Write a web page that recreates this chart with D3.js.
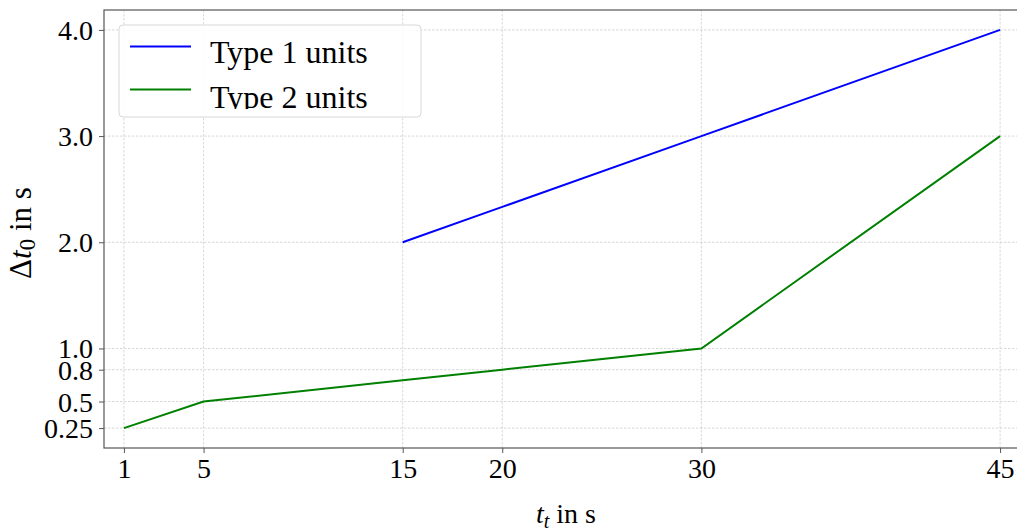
<!DOCTYPE html>
<html>
<head>
<meta charset="utf-8">
<script src="https://cdn.jsdelivr.net/npm/d3@7"></script>
<style>
  body { margin: 0; background: #fff; }
  text { font-family: "Liberation Serif", "DejaVu Serif", serif; fill: #000; }
</style>
</head>
<body>
<div id="chart"></div>
<script>
var svgWidth = 1017;
var svgHeight = 532;

// data
var xTicks = [1, 5, 15, 20, 30, 45];
var yTicks = [0.25, 0.5, 0.8, 1.0, 2.0, 3.0, 4.0];
var yTickLabels = ["0.25", "0.5", "0.8", "1.0", "2.0", "3.0", "4.0"];
var type1X = [15, 20, 30, 45];
var type1Y = [2.0, 2.333, 3.0, 4.0];
var type2X = [1, 5, 15, 20, 30, 45];
var type2Y = [0.25, 0.5, 0.7, 0.8, 1.0, 3.0];
var seriesNames = ["Type 1 units", "Type 2 units"];
var seriesColors = ["#0000ff", "#008000"];

var plotL = 104, plotR = 1020, plotT = 10, plotB = 448;

var svg = d3.select("#chart")
  .append("svg")
  .attr("width", svgWidth)
  .attr("height", svgHeight);

var x = d3.scaleLinear().domain([0, 46]).range([plotL, plotR]);
var y = d3.scaleLinear().domain([0.0625, 4.1875]).range([plotB, plotT]);

// grid
var grid = svg.append("g");
grid.selectAll(".vg").data(xTicks).enter().append("line")
  .attr("x1", d => x(d)).attr("x2", d => x(d))
  .attr("y1", plotT).attr("y2", plotB)
  .attr("stroke", "#b0b0b0").attr("stroke-width", 0.8)
  .attr("stroke-dasharray", "2.5,1.5").attr("opacity", 0.6);
grid.selectAll(".hg").data(yTicks).enter().append("line")
  .attr("x1", plotL).attr("x2", plotR)
  .attr("y1", d => y(d)).attr("y2", d => y(d))
  .attr("stroke", "#b0b0b0").attr("stroke-width", 0.8)
  .attr("stroke-dasharray", "2.5,1.5").attr("opacity", 0.6);

// axes
var xAxis = d3.axisBottom(x).tickValues(xTicks).tickSize(5).tickPadding(5);
var yAxis = d3.axisLeft(y).tickValues(yTicks)
  .tickFormat((d, i) => yTickLabels[i]).tickSize(5).tickPadding(6);

var gx = svg.append("g").attr("transform", `translate(0,${plotB})`).call(xAxis);
var gy = svg.append("g").attr("transform", `translate(${plotL},0)`).call(yAxis);
[gx, gy].forEach(function(g) {
  g.attr("font-size", null).attr("font-family", null);
  g.select(".domain").remove();
  g.selectAll(".tick line").attr("stroke", "#555").attr("stroke-width", 1);
  g.selectAll(".tick text").style("font-size", "28px")
    .style("font-family", "'Liberation Serif', serif").attr("fill", "#000");
});
gy.selectAll(".tick text").attr("dy", "0.34em");

// frame
svg.append("rect")
  .attr("x", plotL).attr("y", plotT)
  .attr("width", plotR - plotL).attr("height", plotB - plotT)
  .attr("fill", "none").attr("stroke", "#555").attr("stroke-width", 1.2);

// lines
var line = d3.line().x(d => x(d[0])).y(d => y(d[1]));
[[type1X, type1Y], [type2X, type2Y]].forEach(function(s, i) {
  svg.append("path")
    .datum(s[0].map((v, j) => [v, s[1][j]]))
    .attr("d", line)
    .attr("fill", "none")
    .attr("stroke", seriesColors[i])
    .attr("stroke-width", 2);
});

// legend; second label is cut off at its baseline as in the original
svg.append("clipPath").attr("id", "legclip")
  .append("rect").attr("x", 118).attr("y", 24).attr("width", 305).attr("height", 85);
var leg = svg.append("g");
leg.append("rect")
  .attr("x", 119).attr("y", 25).attr("width", 302).attr("height", 92)
  .attr("rx", 4).attr("fill", "#fff").attr("fill-opacity", 0.85)
  .attr("stroke", "#d8d8d8").attr("stroke-width", 1);
var legText = leg.append("g").attr("clip-path", "url(#legclip)");
seriesNames.forEach(function(name, i) {
  var ly = 46.5 + i * 43;
  leg.append("line")
    .attr("x1", 130).attr("x2", 191).attr("y1", ly).attr("y2", ly)
    .attr("stroke", seriesColors[i]).attr("stroke-width", 2);
  legText.append("text")
    .attr("x", 210).attr("y", 63 + i * 45)
    .style("font-size", "32px")
    .text(name);
});

// axis labels
svg.append("text")
  .attr("transform", "translate(31,233) rotate(-90)")
  .attr("text-anchor", "middle")
  .style("font-size", "31px")
  .html('Δ<tspan font-style="italic">t</tspan><tspan style="font-size:23px" dy="4">0</tspan><tspan dy="-4"> in s</tspan>');

svg.append("text")
  .attr("x", 566).attr("y", 523)
  .attr("text-anchor", "middle")
  .style("font-size", "28px")
  .html('<tspan font-style="italic">t</tspan><tspan style="font-size:20px" font-style="italic" dy="5">t</tspan><tspan dy="-5"> in s</tspan>');
</script>
</body>
</html>
